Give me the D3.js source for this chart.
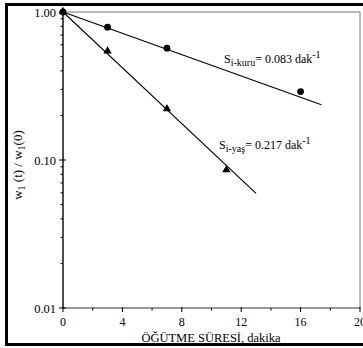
<!DOCTYPE html>
<html>
<head>
<meta charset="utf-8">
<script src="https://cdn.jsdelivr.net/npm/d3@7"></script>
<style>
  html, body { margin: 0; padding: 0; background: #fff; }
  svg text { font-family: "Liberation Serif", "Times New Roman", serif; fill: #000; }
</style>
</head>
<body>
<svg id="chart" width="363" height="348"></svg>
<script>
// Grinding time (min) and retained fraction w1(t)/w1(0)
const timesKuru = [0, 3, 7, 16];
const valuesKuru = [1.0, 0.79, 0.57, 0.29];
const timesYas = [0, 3, 7, 11];
const valuesYas = [1.0, 0.54, 0.22, 0.085];

// First-order breakage rates (dak^-1) and how far each fitted line runs
const rateKuru = 0.083;
const rateYas = 0.217;
const fitEndKuru = 17.4;
const fitEndYas = 13;

const xTicks = [0, 4, 8, 12, 16, 20];
const xMinorTicks = [2, 6, 10, 14, 18];
const yTicks = [0.01, 0.1, 1.0];
const yTickLabels = ["0.01", "0.10", "1.00"];

(function () {
  const svg = d3.select("#chart");
  const plotLeft = 63, plotRight = 360, plotTop = 12, plotBottom = 308;

  const x = d3.scaleLinear().domain([0, 20]).range([plotLeft, plotRight]);
  const y = d3.scaleLog().domain([0.01, 1]).range([plotBottom, plotTop]);

  // Outer frame around the figure
  svg.append("path")
    .attr("d", "M363,4.5 H6.5 V344.5 H363")
    .attr("fill", "none").attr("stroke", "#000").attr("stroke-width", 3);

  // Light plot box (top and right)
  svg.append("path")
    .attr("d", `M${plotLeft},${plotTop} H${plotRight} V${plotBottom}`)
    .attr("fill", "none").attr("stroke", "#777").attr("stroke-width", 1);

  // X axis
  const xAxis = svg.append("g").attr("transform", `translate(0,${plotBottom})`);
  xAxis.append("line").attr("x1", plotLeft).attr("x2", plotRight)
    .attr("stroke", "#333").attr("stroke-width", 1.2);
  xAxis.selectAll(".xt").data(xTicks).enter().append("line")
    .attr("x1", d => x(d)).attr("x2", d => x(d)).attr("y1", -1).attr("y2", 4)
    .attr("stroke", "#000").attr("stroke-width", 1);
  xAxis.selectAll(".xm").data(xMinorTicks).enter().append("line")
    .attr("x1", d => x(d)).attr("x2", d => x(d)).attr("y1", 0).attr("y2", 2.5)
    .attr("stroke", "#000").attr("stroke-width", 1);
  xAxis.selectAll(".xl").data(xTicks).enter().append("text")
    .attr("x", d => x(d)).attr("y", 18)
    .attr("text-anchor", "middle").attr("font-size", 12)
    .text(d => d);

  // Y axis (log)
  const yAxis = svg.append("g");
  yAxis.append("line").attr("x1", plotLeft).attr("x2", plotLeft)
    .attr("y1", plotTop).attr("y2", plotBottom)
    .attr("stroke", "#000").attr("stroke-width", 1.4);
  const yMinor = [];
  [0.01, 0.1].forEach(base => { for (let k = 2; k <= 9; k++) yMinor.push(base * k); });
  yAxis.selectAll(".ym").data(yMinor).enter().append("line")
    .attr("x1", plotLeft - 2.5).attr("x2", plotLeft)
    .attr("y1", d => y(d)).attr("y2", d => y(d))
    .attr("stroke", "#000").attr("stroke-width", 1);
  yAxis.selectAll(".yt").data(yTicks).enter().append("line")
    .attr("x1", plotLeft - 4).attr("x2", plotLeft + 3)
    .attr("y1", d => y(d)).attr("y2", d => y(d))
    .attr("stroke", "#000").attr("stroke-width", 1);
  yAxis.selectAll(".yl").data(yTicks).enter().append("text")
    .attr("x", plotLeft - 7).attr("y", d => y(d) + 4.5)
    .attr("text-anchor", "end").attr("font-size", 12.5)
    .text((d, i) => yTickLabels[i]);

  // Axis titles
  svg.append("text")
    .attr("x", 211).attr("y", 341.5)
    .attr("text-anchor", "middle").attr("font-size", 12.5)
    .text("ÖĞÜTME  SÜRESİ,  dakika");

  const yTitle = svg.append("text")
    .attr("transform", "translate(22,165) rotate(-90)")
    .attr("text-anchor", "middle").attr("font-size", 13);
  yTitle.append("tspan").text("w");
  yTitle.append("tspan").attr("font-size", 10).attr("dy", 3).text("1");
  yTitle.append("tspan").attr("dy", -3).text(" (t) / w");
  yTitle.append("tspan").attr("font-size", 10).attr("dy", 3).text("1");
  yTitle.append("tspan").attr("dy", -3).text("(0)");

  // Fitted first-order lines: w(t) = exp(-S t)
  function drawFit(rate, tEnd) {
    svg.append("line")
      .attr("x1", x(0)).attr("y1", y(1))
      .attr("x2", x(tEnd)).attr("y2", y(Math.exp(-rate * tEnd)))
      .attr("stroke", "#000").attr("stroke-width", 1.1);
  }
  drawFit(rateKuru, fitEndKuru);
  drawFit(rateYas, fitEndYas);

  // Dry grinding: circles
  svg.selectAll(".kuru").data(timesKuru.map((t, i) => [t, valuesKuru[i]])).enter()
    .append("circle")
    .attr("cx", d => x(d[0])).attr("cy", d => y(d[1])).attr("r", 3.4)
    .attr("fill", "#000");

  // Wet grinding: triangles
  const tri = d3.symbol().type(d3.symbolTriangle).size(30);
  svg.selectAll(".yas").data(timesYas.map((t, i) => [t, valuesYas[i]])).enter()
    .append("path")
    .attr("d", tri)
    .attr("transform", d => `translate(${x(d[0])},${y(d[1]) - 0.5})`)
    .attr("fill", "#000");

  // Rate annotations
  function rateLabel(px, py, sub, rate) {
    const t = svg.append("text").attr("x", px).attr("y", py).attr("font-size", 12);
    t.append("tspan").text("S");
    t.append("tspan").attr("font-size", 10).attr("dy", 3).text(sub);
    t.append("tspan").attr("dy", -3).text("= " + rate.toFixed(3) + " dak");
    t.append("tspan").attr("font-size", 10).attr("dy", -5).text("-1");
  }
  rateLabel(224, 63, "i-kuru", rateKuru);
  rateLabel(219, 149, "i-yaş", rateYas);
})();
</script>
</body>
</html>
